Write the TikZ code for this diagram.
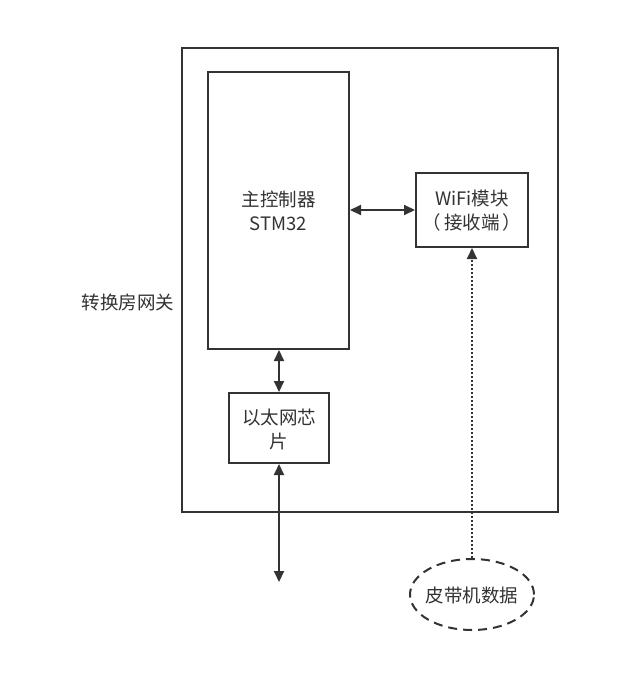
\documentclass[tikz,border=0pt]{standalone}
\usepackage{fontspec}
\setmainfont{Noto Sans CJK SC}
\usetikzlibrary{arrows.meta,shapes.geometric}
\definecolor{ink}{HTML}{333333}
\begin{document}
\begin{tikzpicture}[x=1pt,y=-1pt,
  box/.style={draw=ink,line width=2pt,inner sep=0pt},
  lbl/.style={text=ink,font=\fontsize{18.5}{24}\selectfont,align=center},
  conn/.style={draw=ink,line width=2pt,{Triangle[length=11pt,width=10pt]}-{Triangle[length=11pt,width=10pt]}},
  dotc/.style={draw=ink,line width=2pt,dotted,-{Triangle[length=11pt,width=10pt]}}]
\useasboundingbox (0,0) rectangle (620,692);
\node[box,minimum width=376pt,minimum height=464pt] (gw) at (370,280) {};
\node[box,minimum width=141pt,minimum height=277pt] (mcu) at (278.5,210.5) {};
\node[lbl] (mcut) at (278.5,211) {主控制器\\STM32};
\node[box,minimum width=112pt,minimum height=74pt] (wifi) at (472,210) {};
\node[lbl] (wifit) at (472,211) {WiFi模块\\（\,接收端\,）};
\node[box,minimum width=100pt,minimum height=70pt] (eth) at (279,428) {};
\node[lbl] (etht) at (279,429) {以太网芯\\片};
\node[draw=ink,line width=2pt,dashed,dash pattern=on 9pt off 6pt,ellipse,minimum width=124pt,minimum height=71pt,inner sep=0pt] (belt) at (472,594.5) {};
\node[lbl] (beltt) at (472,595) {皮带机数据};
\node[lbl,anchor=east] (gwt) at (178,302) {转换房网关};
\coordinate (out) at (279,582);
\draw[conn] (mcu.east |- wifi.west) -- (wifi.west);
\draw[conn] (mcu.south -| eth.north) -- (eth.north);
\draw[conn] (eth.south) -- (out);
\draw[dotc] (belt.north) -- (wifi.south);
\end{tikzpicture}
\end{document}
